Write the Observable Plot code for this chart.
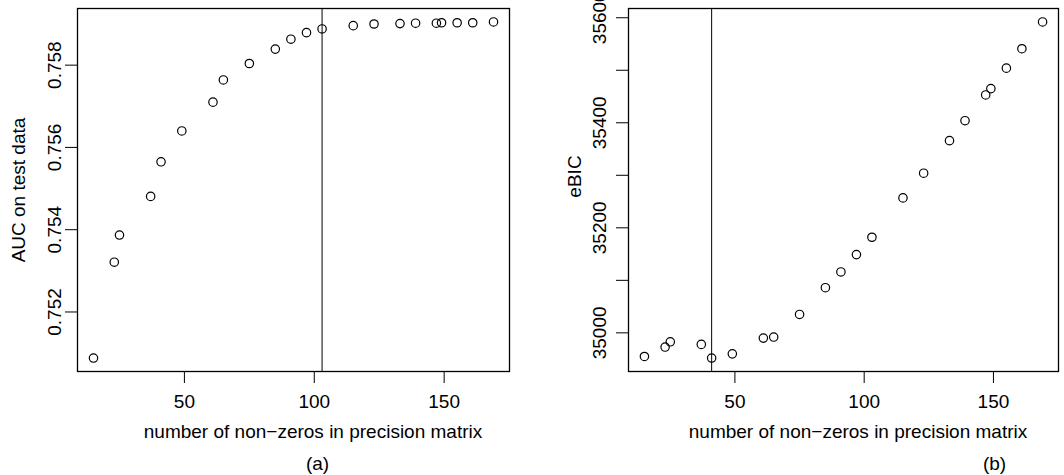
<!DOCTYPE html>
<html>
<head>
<meta charset="utf-8">
<script src="https://cdn.jsdelivr.net/npm/d3@7"></script>
<script src="https://cdn.jsdelivr.net/npm/@observablehq/plot@0.6"></script>
<style>
  body { margin: 0; background: white; }
  #wrap { position: relative; width: 1064px; height: 475px; font-family: "Liberation Sans", Arial, sans-serif; color: black; }
  #row { display: flex; }
  .cap { position: absolute; font-size: 19px; line-height: 19px; transform: translateX(-50%); white-space: nowrap; }
</style>
</head>
<body>
<div id="wrap">
  <div id="row"></div>
  <div class="cap" id="capA" style="left:317.5px; top:454px;">(a)</div>
  <div class="cap" id="capB" style="left:994.5px; top:454px;">(b)</div>
</div>
<script>
// ---- data ----
const nonZeros = [15, 23, 25, 37, 41, 49, 61, 65, 75, 85, 91, 97, 103, 115, 123, 133, 139, 147, 149, 155, 161, 169];
const aucTest  = [0.75088, 0.75321, 0.75387, 0.75481, 0.75565, 0.75640, 0.75710, 0.75764, 0.75804, 0.75839, 0.75863,
                  0.75879, 0.75888, 0.75896, 0.75900, 0.75901, 0.75902, 0.75902, 0.75903, 0.75903, 0.75903, 0.75905];
const eBIC     = [34955, 34973, 34983, 34978, 34952, 34960, 34990, 34992, 35035, 35086, 35116,
                  35149, 35182, 35257, 35304, 35366, 35404, 35453, 35465, 35504, 35541, 35592];
const selectedA = [103];
const selectedB = [41];
const xTicks  = [50, 100, 150];
const yTicksA = [0.752, 0.754, 0.756, 0.758];
const yTicksB = [35000, 35100, 35200, 35300, 35400, 35500, 35600];
const yLabelsB = [35000, 35200, 35400, 35600];
const xLabel  = "number of non\u2212zeros in precision matrix";
const yLabelA = "AUC on test data";
const yLabelB = "eBIC";

// ---- helpers ----
const pad = (arr) => { const [a, b] = d3.extent(arr); const r = b - a; return [a - 0.04 * r, b + 0.04 * r]; };
const dataA = nonZeros.map((x, i) => ({x, y: aucTest[i]}));
const dataB = nonZeros.map((x, i) => ({x, y: eBIC[i]}));
const H = 445;
const style = {fontFamily: "'Liberation Sans', Arial, sans-serif", fontSize: "19px", color: "black", background: "white", overflow: "visible"};

const plotA = Plot.plot({
  width: 532, height: H,
  marginLeft: 77, marginRight: 23, marginTop: 8, marginBottom: H - 371,
  style,
  x: {domain: pad(nonZeros)},
  y: {domain: pad(aucTest)},
  marks: [
    Plot.ruleX(selectedA, {stroke: "black", strokeWidth: 1}),
    Plot.dot(dataA, {x: "x", y: "y", r: 4.2, stroke: "black", strokeWidth: 1.2, fill: "none"}),
    Plot.axisX({ticks: xTicks, tickSize: 12, tickPadding: 10.5, label: null, tickFormat: d3.format("d")}),
    Plot.axisY({ticks: yTicksA, tickSize: 12, tickPadding: 5, tickRotate: -90, label: null, tickFormat: d3.format(".3f")}),
    Plot.text([xLabel], {text: d => d, frameAnchor: "bottom", dy: 66, dx: 19.5, lineAnchor: "bottom", textAnchor: "middle"}),
    Plot.text([yLabelA], {text: d => d, frameAnchor: "left", dx: -53, rotate: -90, lineAnchor: "bottom", textAnchor: "middle"}),
    Plot.frame({stroke: "black", strokeWidth: 1.3})
  ]
});

const plotB = Plot.plot({
  width: 532, height: H,
  marginLeft: 96, marginRight: 6, marginTop: 8, marginBottom: H - 371,
  style,
  x: {domain: pad(nonZeros)},
  y: {domain: pad(eBIC)},
  marks: [
    Plot.ruleX(selectedB, {stroke: "black", strokeWidth: 1}),
    Plot.dot(dataB, {x: "x", y: "y", r: 4.2, stroke: "black", strokeWidth: 1.2, fill: "none"}),
    Plot.axisX({ticks: xTicks, tickSize: 12, tickPadding: 10.5, label: null, tickFormat: d3.format("d")}),
    Plot.axisY({ticks: yTicksB, tickSize: 12, tickPadding: 11, tickRotate: -90, label: null,
                tickFormat: d => yLabelsB.includes(d) ? String(d) : ""}),
    Plot.text([xLabel], {text: d => d, frameAnchor: "bottom", dy: 66, dx: 14.5, lineAnchor: "bottom", textAnchor: "middle"}),
    Plot.text([yLabelB], {text: d => d, frameAnchor: "left", dx: -48, dy: -13.5, rotate: -90, lineAnchor: "bottom", textAnchor: "middle"}),
    Plot.frame({stroke: "black", strokeWidth: 1.3})
  ]
});

document.getElementById("row").append(plotA, plotB);
</script>
</body>
</html>
